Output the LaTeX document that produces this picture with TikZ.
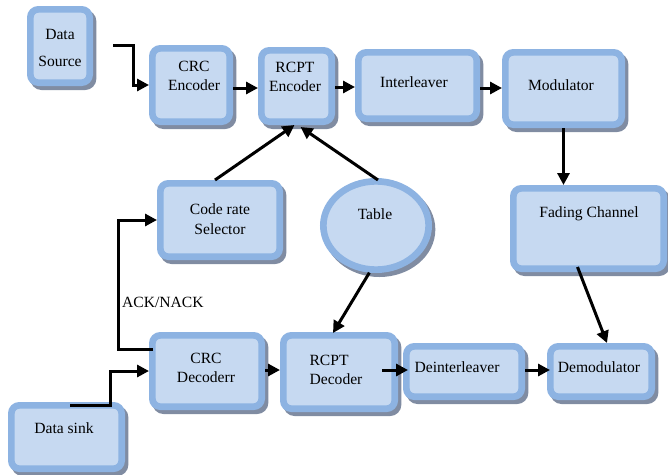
\documentclass[tikz,border=0pt]{standalone}
\usepackage{fontspec}
\setmainfont{Liberation Serif}
\usetikzlibrary{arrows.meta,shadows,calc,shapes.geometric}

\definecolor{blkedge}{RGB}{141,179,226}
\definecolor{blkfill}{RGB}{198,217,241}
\definecolor{blkshade}{RGB}{128,140,162}

\tikzset{
  blk/.style={draw=blkedge, fill=blkfill, line width=5pt, rounded corners=6pt,
    general shadow={shadow xshift=2.5pt, shadow yshift=-3pt, fill=blkshade, draw=blkshade, line width=5pt}},
  txt/.style={font=\fontsize{11.7}{14.5}\selectfont, align=center, inner sep=0pt},
  lbl/.style={font=\fontsize{11.7}{14.5}\selectfont, inner sep=2pt},
  arr/.style={line width=2.25pt, -{Triangle[length=9pt,width=9pt]}}
}

\begin{document}
\begin{tikzpicture}[x=0.75pt,y=0.75pt,yscale=-1,xscale=1]
\useasboundingbox (0,0) rectangle (668,475);

%Shape: Rounded Rect (transmitter)
\node [blk, minimum width=44.5pt, minimum height=55pt] (src) at (60,46) {};
\node [blk, minimum width=58pt, minimum height=55pt] (crcenc) at (191,85) {};
\node [blk, minimum width=52.75pt, minimum height=53.5pt] (rcptenc) at (296.5,86) {};
\node [blk, minimum width=88.75pt, minimum height=49.75pt] (inter) at (417.5,85.5) {};
\node [blk, minimum width=87.25pt, minimum height=54.25pt] (mod) at (563.5,88.5) {};
%Shape: Rounded Rect (rate control)
\node [blk, minimum width=89.5pt, minimum height=55pt] (sel) at (220,220) {};
%Shape: Ellipse
\node [blk, ellipse, minimum width=79pt, minimum height=66.25pt] (table) at (376,225.5) {};
%Shape: Rounded Rect (channel)
\node [blk, minimum width=112.75pt, minimum height=60.25pt] (fading) at (588.5,228.5) {};
%Shape: Rounded Rect (receiver)
\node [blk, minimum width=82pt, minimum height=53.5pt] (crcdec) at (207,371) {};
\node [blk, minimum width=83.5pt, minimum height=55pt] (rcptdec) at (339,372) {};
\node [blk, minimum width=86.5pt, minimum height=37.75pt] (deint) at (464,371.5) {};
\node [blk, minimum width=76pt, minimum height=37.75pt] (demod) at (601,371.5) {};
\node [blk, minimum width=82.75pt, minimum height=47.5pt] (sink) at (66.5,437) {};

% Text Node
\node [txt] (srcT) at (60,48) {Data\\[6pt]Source};
% Text Node
\node [txt] (crcencT) at (194,76) {CRC\\Encoder};
% Text Node
\node [txt] (rcptencT) at (295,77) {RCPT\\Encoder};
% Text Node
\node [txt] (interT) at (414,82) {Interleaver};
% Text Node
\node [txt] (modT) at (561,85) {Modulator};
% Text Node
\node [txt] (selT) at (220,219) {Code rate\\Selector};
% Text Node
\node [txt] (tableT) at (375,214) {Table};
% Text Node
\node [txt] (fadingT) at (589,214) {Fading Channel};
% Text Node
\node [txt] (crcdecT) at (206,368) {CRC\\Decoderr};
% Text Node
\node [txt, align=left] (rcptdecT) at (336,370) {RCPT\\Decoder};
% Text Node
\node [txt] (deintT) at (457,367) {Deinterleaver};
% Text Node
\node [txt] (demodT) at (599,367) {Demodulator};
% Text Node
\node [txt] (sinkT) at (64,428) {Data sink};

%Connectors: transmitter chain
\draw [arr] ($(src.east)+(20,-1)$) -- ++(20,0) |- (crcenc.west);
\draw [arr] ($(crcenc.east)+(0,3)$) -- ($(rcptenc.west)+(0,2)$);
\draw [arr] ($(rcptenc.east)+(0,1)$) -- ($(inter.west)+(0,1.5)$);
\draw [arr] ($(inter.east)+(0,2.5)$) -- ($(mod.west)+(0,-0.5)$);
\draw [arr] (mod.south) -- (mod.south |- fading.north);
\draw [arr] ($(fading.south)+(-11,-5)$) -- ($(demod.north)+(6,0)$);
%Connectors: rate selection
\draw [arr] ($(sel.north)+(-5,0)$) -- ($(rcptenc.south)+(-2,0)$);
\draw [arr] ($(table.north)+(2,2)$) -- ($(rcptenc.south)+(4,2)$);
\draw [arr] (table.262) -- ($(rcptdec.north)+(-6,1)$);
%Connectors: receiver chain
\draw [arr] ($(sink.north)+(3.5,3)$) -- ++(40,0) |- (crcdec.west);
\draw [arr] ($(crcdec.west)+(4,-22)$) -- ++(-35,0) |- node [lbl, pos=0.18, right] (ack) {ACK/NACK} (sel.west);
\draw [arr] ($(crcdec.east)+(0,-1)$) -- ($(rcptdec.west)+(0,-2)$);
\draw [arr] ($(rcptdec.east)+(-16,-2)$) -- ($(deint.west)+(5,-1.5)$);
\draw [arr] ($(deint.east)+(0,-1.5)$) -- ($(demod.west)+(3,-1.5)$);

\end{tikzpicture}
\end{document}
